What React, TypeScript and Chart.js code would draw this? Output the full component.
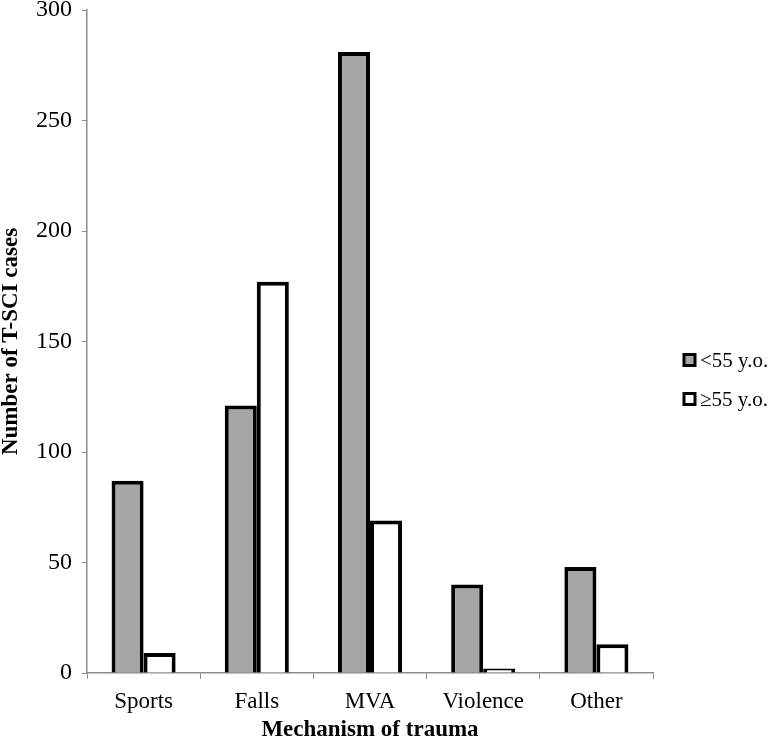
import React, { useEffect, useRef } from "react";
import { Chart, registerables } from "chart.js";

Chart.register(...registerables);

const categories = ["Sports", "Falls", "MVA", "Violence", "Other"];
const under55 = [87, 121, 281, 40, 48];
const over55 = [9, 177, 69, 2, 13];
const seriesLabels = ["<55 y.o.", "\u226555 y.o."];
const yTicks = [0, 50, 100, 150, 200, 250, 300];

const legendPlugin = {
  id: "customLegend",
  afterDraw(chart: any) {
    const ctx = chart.ctx;
    const ds = chart.data.datasets;
    ctx.save();
    ds.forEach((d: any, i: number) => {
      const cy = 360 + i * 39;
      const x = 684;
      const s = 11;
      ctx.fillStyle = d.backgroundColor;
      ctx.fillRect(x, cy - s / 2, s, s);
      ctx.lineWidth = 3;
      ctx.strokeStyle = "#000";
      ctx.strokeRect(x, cy - s / 2, s, s);
      ctx.fillStyle = "#000";
      ctx.font = "21px 'Liberation Serif'";
      ctx.textAlign = "left";
      ctx.textBaseline = "middle";
      ctx.fillText(d.label, 700, cy + 1);
    });
    ctx.restore();
  },
};

export default function App() {
  const ref = useRef<HTMLCanvasElement | null>(null);
  useEffect(() => {
    if (!ref.current) return;
    const axisColor = "#8c8c8c";
    const chart = new Chart(ref.current, {
      type: "bar",
      data: {
        labels: categories,
        datasets: [
          {
            label: seriesLabels[0],
            data: under55,
            backgroundColor: "#a6a6a6",
            borderColor: "#000",
            borderWidth: 4,
            categoryPercentage: 0.566,
            barPercentage: 1,
          },
          {
            label: seriesLabels[1],
            data: over55,
            backgroundColor: "#ffffff",
            borderColor: "#000",
            borderWidth: 4,
            categoryPercentage: 0.566,
            barPercentage: 1,
          },
        ],
      },
      options: {
        animation: false,
        responsive: false,
        maintainAspectRatio: false,
        layout: { padding: { top: 10, right: 119, bottom: 0, left: 0 } },
        plugins: {
          legend: { display: false },
          tooltip: { enabled: false },
        },
        scales: {
          x: {
            z: 1,
            grid: {
              display: true,
              drawOnChartArea: false,
              drawTicks: true,
              tickLength: 6,
              color: axisColor,
              offset: true,
            },
            border: { display: true, color: axisColor, width: 1.5 },
            ticks: {
              color: "#000",
              padding: 9,
              font: { family: "'Liberation Serif'", size: 23 },
            },
            title: {
              display: true,
              text: "Mechanism of trauma",
              color: "#000",
              padding: { top: 0, bottom: 0 },
              font: { family: "'Liberation Serif'", size: 23, weight: "bold", lineHeight: 1 },
            },
            afterFit(scale: any) {
              scale.height = 69;
              scale.paddingLeft = 0;
              scale.paddingRight = 0;
            },
          },
          y: {
            min: 0,
            max: 300,
            afterBuildTicks(scale: any) {
              scale.ticks = yTicks.map((v) => ({ value: v }));
            },
            grid: {
              display: true,
              drawOnChartArea: false,
              drawTicks: true,
              tickLength: 5,
              color: axisColor,
            },
            border: { display: true, color: axisColor, width: 1.5 },
            ticks: {
              color: "#000",
              padding: 10,
              font: { family: "'Liberation Serif'", size: 24 },
            },
            title: {
              display: true,
              text: "Number of T-SCI cases",
              color: "#000",
              padding: { top: 0, bottom: 0 },
              font: { family: "'Liberation Serif'", size: 23, weight: "bold", lineHeight: 1 },
            },
            afterFit(scale: any) {
              scale.width = 87;
              scale.paddingTop = 0;
              scale.paddingBottom = 0;
            },
          },
        },
      },
      plugins: [legendPlugin],
    });
    return () => chart.destroy();
  }, []);
  return (
    <div style={{ position: "absolute", left: 0, top: 0, width: 772, height: 742, background: "#fff" }}>
      <canvas ref={ref} width={772} height={742} style={{ width: 772, height: 742 }} />
    </div>
  );
}
